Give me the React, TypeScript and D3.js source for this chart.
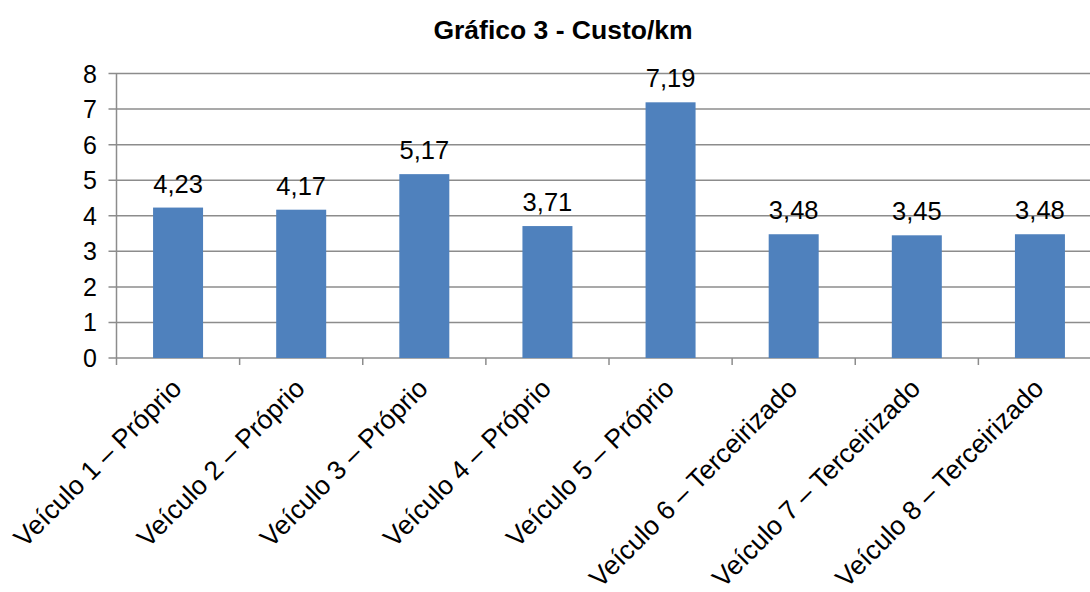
import React from "react";
import * as d3 from "d3";

const categories = [
  "Veículo 1 – Próprio",
  "Veículo 2 – Próprio",
  "Veículo 3 – Próprio",
  "Veículo 4 – Próprio",
  "Veículo 5 – Próprio",
  "Veículo 6 – Terceirizado",
  "Veículo 7 – Terceirizado",
  "Veículo 8 – Terceirizado",
];
const values = [4.23, 4.17, 5.17, 3.71, 7.19, 3.48, 3.45, 3.48];
const yTicks = [0, 1, 2, 3, 4, 5, 6, 7, 8];
const title = "Gráfico 3 - Custo/km";

export default function App() {
  const W = 1090, H = 592;
  const left = 116.5, right = 1101.5, top = 73.5, bottom = 358;
  const x = d3.scaleBand<string>().domain(categories).range([left, right]).paddingInner(0).paddingOuter(0);
  const y = d3.scaleLinear().domain([0, 8]).range([bottom, top]);
  const bw = 50;
  const font = "'Liberation Sans', Arial, sans-serif";
  const grid = "#8c8c8c";
  return (
    <svg width={W} height={H} style={{ position: "absolute", left: 0, top: 0 }} fontFamily={font}>
      <rect width={W} height={H} fill="#fff" />
      <text x={563} y={39} textAnchor="middle" fontSize={26.5} fontWeight="bold">{title}</text>
      {yTicks.map((t) => (
        <g key={t}>
          <line x1={left - 8} x2={W} y1={y(t)} y2={y(t)} stroke={grid} strokeWidth={1.5} />
          <text x={97} y={y(t) + 9} textAnchor="end" fontSize={25}>{t}</text>
        </g>
      ))}
      <line x1={left} x2={left} y1={top} y2={bottom + 7} stroke={grid} strokeWidth={1.5} />
      {categories.map((c, i) => (
        <line key={"t" + i} x1={x(c)! + x.bandwidth()} x2={x(c)! + x.bandwidth()} y1={bottom} y2={bottom + 7} stroke={grid} strokeWidth={1.5} />
      ))}
      {categories.map((c, i) => {
        const cx = x(c)! + x.bandwidth() / 2;
        return (
          <g key={c}>
            <rect x={cx - bw / 2} y={y(values[i])} width={bw} height={bottom - y(values[i])} fill="#4F81BD" />
            <text x={cx} y={y(values[i]) - 15} textAnchor="middle" fontSize={25.5}>
              {values[i].toFixed(2).replace(".", ",")}
            </text>
            <text
              transform={`translate(${cx - 8},${bottom + 19}) rotate(-45)`}
              textAnchor="end"
              fontSize={26.5}
              dy="0.7em"
            >
              {c}
            </text>
          </g>
        );
      })}
    </svg>
  );
}
